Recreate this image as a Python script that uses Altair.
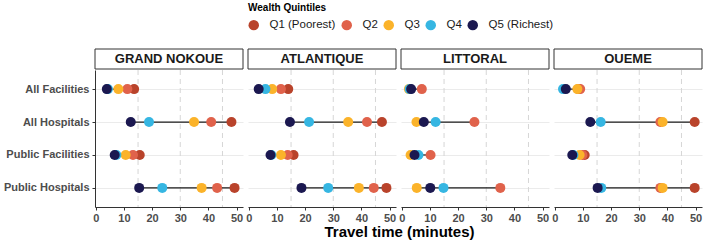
import altair as alt
import pandas as pd

regions = ["GRAND NOKOUE", "ATLANTIQUE", "LITTORAL", "OUEME"]
facilities = ["All Facilities", "All Hospitals", "Public Facilities", "Public Hospitals"]
quintiles = ["Q1 (Poorest)", "Q2", "Q3", "Q4", "Q5 (Richest)"]
colors = ["#B9432B", "#E0624B", "#FBB32A", "#36B6E2", "#1B1850"]

# Travel time (minutes); each list runs region by region, 4 facility types each
q1 = [13.6, 48.2, 15.6, 49.3, 14.0, 47.3, 15.9, 48.9, None, None, None, None, 8.5, 49.7, 10.6, 49.7]
q2 = [11.2, 41.0, 13.2, 43.1, 11.4, 42.0, 13.8, 44.4, 7.1, 25.8, 10.2, 35.0, 9.0, 37.5, 9.8, 37.5]
q3 = [8.0, 34.9, 10.6, 37.6, 8.3, 35.3, 11.4, 39.1, 2.5, 5.2, 3.1, 5.3, 8.0, 38.3, 8.8, 38.3]
q4 = [4.3, 18.9, 7.3, 23.6, 5.9, 21.4, 8.0, 28.2, 2.8, 12.0, 5.9, 14.8, 2.9, 16.3, 6.6, 16.5]
q5 = [3.9, 12.4, 6.7, 15.4, 3.5, 14.6, 7.7, 18.7, 3.3, 7.8, 4.5, 10.1, 3.9, 12.6, 6.2, 15.2]

x_ticks = [0, 10, 20, 30, 40, 50]
dashed_x = [15, 30, 45]

rows = []
for qi, (qname, vals) in enumerate(zip(quintiles, [q1, q2, q3, q4, q5])):
    for k, v in enumerate(vals):
        if v is None:
            continue
        rows.append({"region": regions[k // 4], "facility": facilities[k % 4],
                     "quintile": qname, "order": qi, "value": v})
df = pd.DataFrame(rows)

FONT = "Liberation Sans"
PW, PH = 148, 137
xs = alt.Scale(domain=[-0.3, 52.3], nice=False, zero=False)
ys = alt.Scale(domain=facilities, type="point", padding=0.58)
cs = alt.Scale(domain=quintiles, range=colors)


def panel(i, region):
    d = df[df.region == region]
    first = i == 0

    yaxis = alt.Axis(title=None, labels=first, ticks=first, domain=first,
                     grid=True, gridColor="#EBEBEB", gridWidth=1,
                     labelFont=FONT, labelFontSize=11, labelFontWeight="bold",
                     labelColor="#4D4D4D", tickSize=3, tickColor="#333333",
                     domainColor="#333333", labelPadding=3)
    xaxis_kwargs = dict(values=x_ticks, grid=False, labelFont=FONT, labelFontSize=11,
                        labelFontWeight="bold", labelColor="#4D4D4D", tickSize=3,
                        tickColor="#333333", domainColor="#333333", labelPadding=2,
                        labelFlush=False)
    if first:
        xaxis = alt.Axis(title="Travel time (minutes)", titleFont=FONT, titleFontSize=15,
                         titleFontWeight="bold", titleColor="#000000", titleX=304,
                         titlePadding=1, **xaxis_kwargs)
    else:
        xaxis = alt.Axis(title=None, **xaxis_kwargs)

    grid = alt.Chart(pd.DataFrame({"value": dashed_x})).mark_rule(
        color="#D6D6D6", strokeDash=[5, 4], strokeWidth=1
    ).encode(x=alt.X("value:Q", scale=xs, axis=xaxis))

    seg = alt.Chart(d).mark_rule(color="#1a1a1a", strokeWidth=1.2).encode(
        x=alt.X("min(value):Q", scale=xs, axis=xaxis),
        x2="max(value):Q",
        y=alt.Y("facility:N", scale=ys, axis=yaxis, sort=facilities),
    )

    legend = None
    if first:
        legend = alt.Legend(title="Wealth Quintiles", orient="none", legendX=153, legendY=-67,
                            direction="horizontal", titleFont=FONT, titleFontSize=10,
                            titleFontWeight="bold", titleColor="#000000", labelFont=FONT,
                            labelFontSize=11.5, labelColor="#1a1a1a", symbolType="circle",
                            symbolSize=110, symbolStrokeWidth=0, labelOffset=10,
                            columnPadding=5, titlePadding=6)

    pts = alt.Chart(d).mark_circle(size=100, opacity=1).encode(
        x=alt.X("value:Q", scale=xs, axis=xaxis),
        y=alt.Y("facility:N", scale=ys, axis=yaxis, sort=facilities),
        color=alt.Color("quintile:N", scale=cs, legend=legend),
        order=alt.Order("order:Q"),
    )

    hdr = pd.DataFrame({"region": [region]})
    box = alt.Chart(hdr).mark_rect(fill="white", stroke="#333333", strokeWidth=1).encode(
        x=alt.value(0), x2=alt.value(PW), y=alt.value(-21), y2=alt.value(-1)
    )
    txt = alt.Chart(hdr).mark_text(font=FONT, fontSize=13, fontWeight="bold",
                                   color="#1a1a1a", baseline="middle").encode(
        text="region:N", x=alt.value(PW / 2), y=alt.value(-11)
    )
    return alt.layer(grid, seg, pts, box, txt).properties(width=PW, height=PH)


chart = alt.hconcat(*[panel(i, r) for i, r in enumerate(regions)], spacing=5,
                    bounds="flush").properties(
    padding={"left": 3, "top": 3, "right": 2, "bottom": 1},
    background="white",
).configure_view(stroke=None)

chart.save("out.html", embed_options={"renderer": "svg", "actions": False})
